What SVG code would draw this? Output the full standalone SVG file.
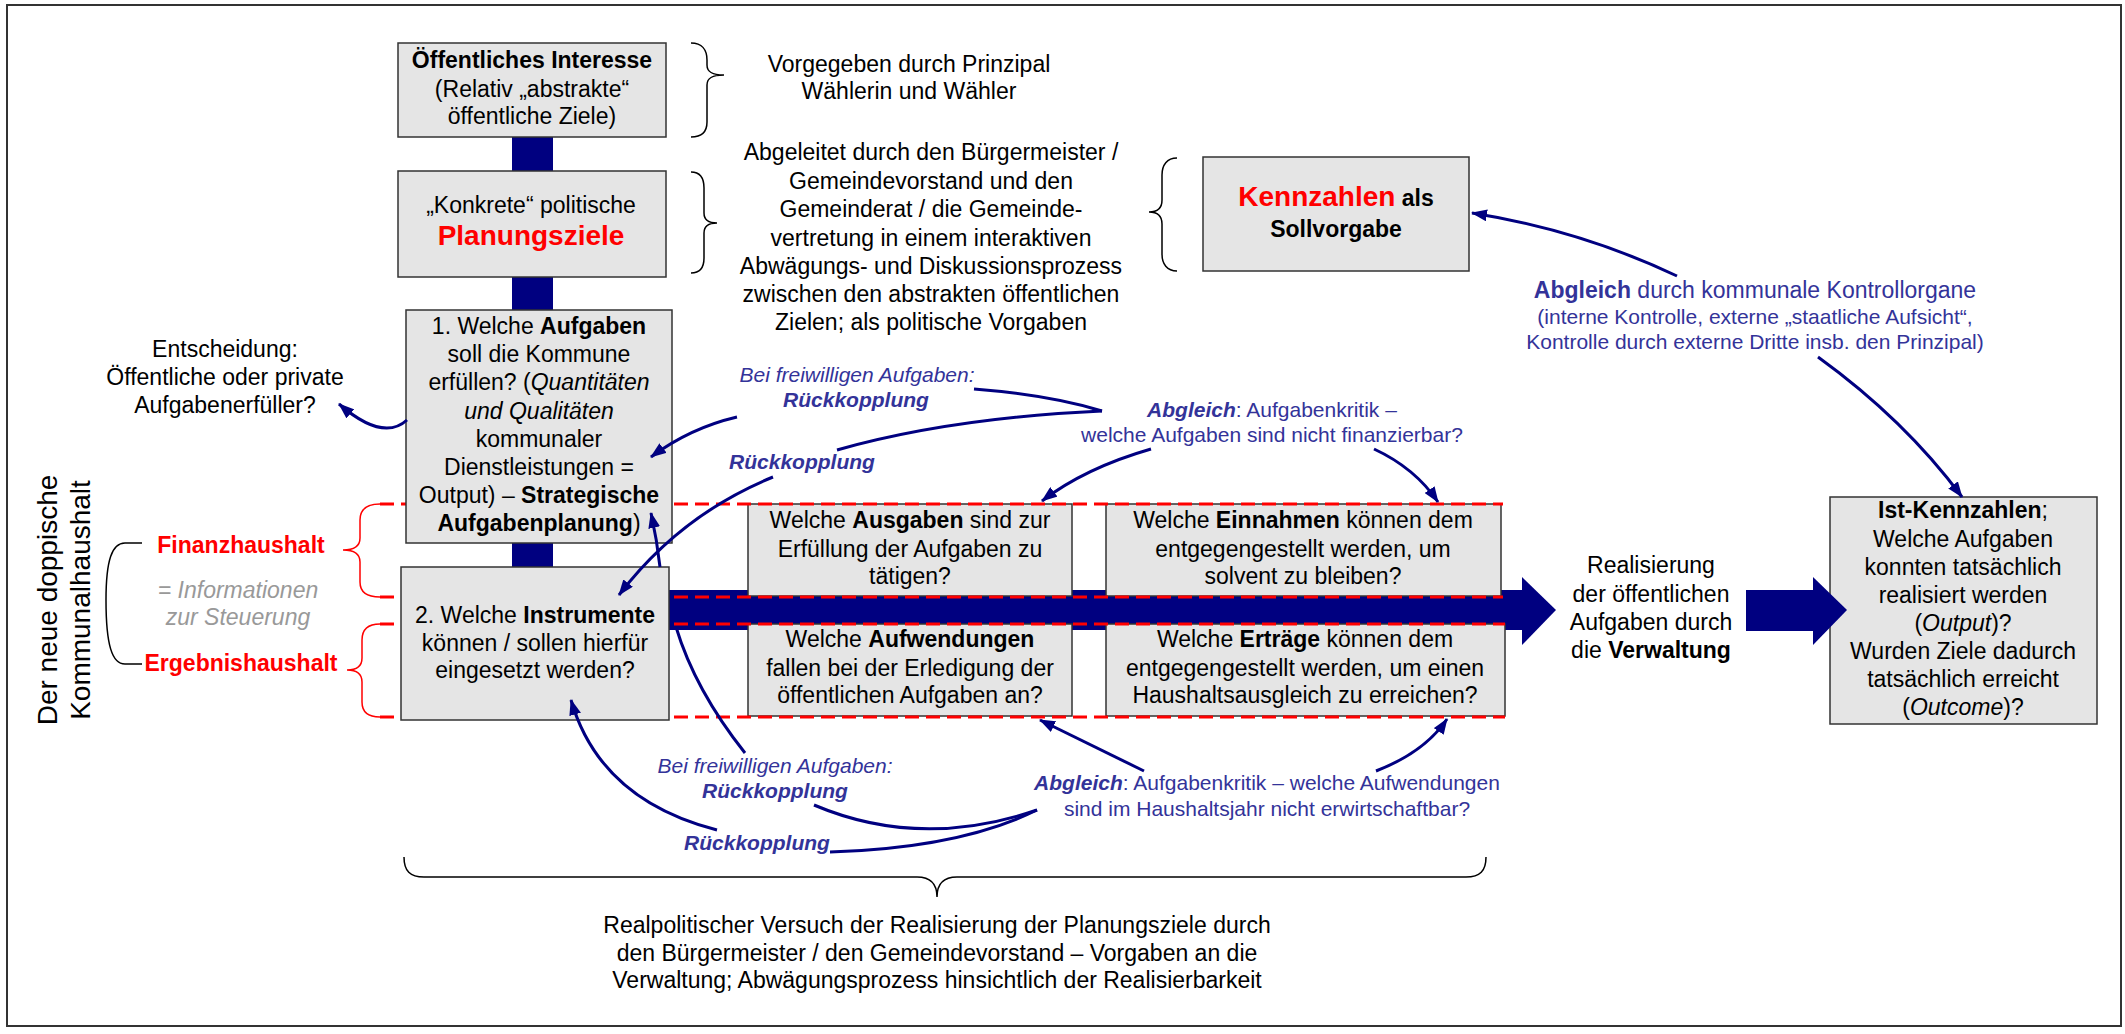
<svg xmlns="http://www.w3.org/2000/svg" width="2125" height="1034" viewBox="0 0 2125 1034">
<defs>
  <marker id="arrow" viewBox="0 0 16 12" refX="15" refY="6" markerWidth="16" markerHeight="12" markerUnits="userSpaceOnUse" orient="auto">
    <path d="M0,0 L16,6 L0,12 z" fill="#000080"/>
  </marker>
</defs>
<style>
  text { font-family: "Liberation Sans", Arial, sans-serif; font-size: 23px; fill: #000; text-anchor: middle; }
  .box { fill: #e5e5e5; stroke: #333; stroke-width: 1.5; }
  .b { font-weight: bold; }
  .i { font-style: italic; }
  .red { fill: #ff0000; }
  .big { font-size: 28px; }
  .vert { font-size: 28px; }
  .blue { fill: #333399; font-size: 21px; }
  .blue-l { fill: #333399; }
  .gray { fill: #999999; font-style: italic; }
  .brace { fill: none; stroke: #000; stroke-width: 1.5; }
  .rbrace { fill: none; stroke: #ff0000; stroke-width: 1.5; }
  .dash { stroke: #ff0000; stroke-width: 3; stroke-dasharray: 14 7; fill: none; }
  .link { fill: none; stroke: #000080; stroke-width: 3; }
  .arr { marker-end: url(#arrow); }
  .navy { fill: #000080; }
</style>

<!-- outer frame -->
<rect x="7" y="5" width="2114" height="1021" fill="#fff" stroke="#333" stroke-width="2"/>

<!-- backbone: vertical planning spine and horizontal realisation arrow -->
<g id="backbone">
  <rect class="navy" x="512" y="137" width="41" height="430"/>
  <rect class="navy" x="669" y="590" width="853" height="40"/>
  <polygon class="navy" points="1522,577 1556,610 1522,645"/>
</g>

<!-- budget questions -->
<g id="node-ausgaben">
  <rect class="box" x="748" y="504" width="324" height="92"/>
  <text x="910" y="528">Welche <tspan class="b">Ausgaben</tspan> sind zur</text>
  <text x="910" y="557">Erfüllung der Aufgaben zu</text>
  <text x="910" y="584">tätigen?</text>
</g>
<g id="node-einnahmen">
  <rect class="box" x="1106" y="504" width="395" height="92"/>
  <text x="1303" y="528">Welche <tspan class="b">Einnahmen</tspan> können dem</text>
  <text x="1303" y="557">entgegengestellt werden, um</text>
  <text x="1303" y="584">solvent zu bleiben?</text>
</g>
<g id="node-aufwendungen">
  <rect class="box" x="748" y="624" width="324" height="92"/>
  <text x="910" y="647">Welche <tspan class="b">Aufwendungen</tspan></text>
  <text x="910" y="676">fallen bei der Erledigung der</text>
  <text x="910" y="703">öffentlichen Aufgaben an?</text>
</g>
<g id="node-ertraege">
  <rect class="box" x="1106" y="624" width="399" height="92"/>
  <text x="1305" y="647">Welche <tspan class="b">Erträge</tspan> können dem</text>
  <text x="1305" y="676">entgegengestellt werden, um einen</text>
  <text x="1305" y="703">Haushaltsausgleich zu erreichen?</text>
</g>

<!-- Finanzhaushalt / Ergebnishaushalt bands -->
<g id="haushalt-bands">
  <line class="dash" x1="380" y1="504" x2="1503" y2="504"/>
  <line class="dash" x1="380" y1="597" x2="1503" y2="597"/>
  <line class="dash" x1="380" y1="624" x2="1505" y2="624"/>
  <line class="dash" x1="380" y1="717" x2="1505" y2="717"/>
  <path class="rbrace" d="M380,504 C366,504 360,510 360,520 L360,538 C360,546 355,550 343,550 C355,550 360,554 360,562 L360,582 C360,592 366,597 380,597"/>
  <path class="rbrace" d="M380,624 C368,624 362,630 362,640 L362,658 C362,666 357,670 347,670 C357,670 362,674 362,682 L362,702 C362,712 368,717 380,717"/>
</g>

<!-- planning chain -->
<g id="node-interesse">
  <rect class="box" x="398" y="43" width="268" height="94"/>
  <text x="532" y="68" class="b">Öffentliches Interesse</text>
  <text x="532" y="97">(Relativ „abstrakte“</text>
  <text x="532" y="124">öffentliche Ziele)</text>
</g>
<g id="node-planungsziele">
  <rect class="box" x="398" y="171" width="268" height="106"/>
  <text x="531" y="213">„Konkrete“ politische</text>
  <text x="531" y="245" class="b red big">Planungsziele</text>
</g>
<g id="node-aufgaben">
  <rect class="box" x="406" y="310" width="266" height="233"/>
  <text x="539" y="334">1. Welche <tspan class="b">Aufgaben</tspan></text>
  <text x="539" y="362">soll die Kommune</text>
  <text x="539" y="390">erfüllen? (<tspan class="i">Quantitäten</tspan></text>
  <text x="539" y="419" class="i">und Qualitäten</text>
  <text x="539" y="447">kommunaler</text>
  <text x="539" y="475">Dienstleistungen =</text>
  <text x="539" y="503">Output) – <tspan class="b">Strategische</tspan></text>
  <text x="539" y="531"><tspan class="b">Aufgabenplanung</tspan>)</text>
</g>
<g id="node-instrumente">
  <rect class="box" x="401" y="567" width="268" height="153"/>
  <text x="535" y="623">2. Welche <tspan class="b">Instrumente</tspan></text>
  <text x="535" y="651">können / sollen hierfür</text>
  <text x="535" y="678">eingesetzt werden?</text>
</g>
<g id="node-kennzahlen">
  <rect class="box" x="1203" y="157" width="266" height="114"/>
  <text x="1336" y="206"><tspan class="b red big">Kennzahlen</tspan><tspan class="b"> als</tspan></text>
  <text x="1336" y="237" class="b">Sollvorgabe</text>
</g>
<g id="node-ist">
  <rect class="box" x="1830" y="497" width="267" height="227"/>
  <text x="1963" y="518"><tspan class="b">Ist-Kennzahlen</tspan>;</text>
  <text x="1963" y="547">Welche Aufgaben</text>
  <text x="1963" y="575">konnten tatsächlich</text>
  <text x="1963" y="603">realisiert werden</text>
  <text x="1963" y="631">(<tspan class="i">Output</tspan>)?</text>
  <text x="1963" y="659">Wurden Ziele dadurch</text>
  <text x="1963" y="687">tatsächlich erreicht</text>
  <text x="1963" y="715">(<tspan class="i">Outcome</tspan>)?</text>
</g>

<!-- annotations with braces -->
<g id="note-prinzipal">
  <path class="brace" d="M691,43 C702,43 707,50 707,60 L707,65 C707,72 712,75 724,75 C712,75 707,78 707,85 L707,122 C707,132 702,137 691,137"/>
  <text x="909" y="72">Vorgegeben durch Prinzipal</text>
  <text x="909" y="99">Wählerin und Wähler</text>
</g>
<g id="note-abgeleitet">
  <path class="brace" d="M691,172 C700,172 704,178 704,188 L704,213 C704,219 708,223 717,223 C708,223 704,227 704,233 L704,258 C704,268 700,273 691,273"/>
  <text x="931" y="160">Abgeleitet durch den Bürgermeister /</text>
  <text x="931" y="189">Gemeindevorstand und den</text>
  <text x="931" y="217">Gemeinderat / die Gemeinde-</text>
  <text x="931" y="246">vertretung in einem interaktiven</text>
  <text x="931" y="274">Abwägungs- und Diskussionsprozess</text>
  <text x="931" y="302">zwischen den abstrakten öffentlichen</text>
  <text x="931" y="330">Zielen; als politische Vorgaben</text>
</g>
<g id="note-kennzahlen-brace">
  <path class="brace" d="M1177,158 C1167,158 1162,165 1162,175 L1162,200 C1162,207 1158,212 1149,212 C1158,212 1162,217 1162,224 L1162,254 C1162,264 1167,271 1177,271"/>
</g>
<g id="note-entscheidung">
  <text x="225" y="357">Entscheidung:</text>
  <text x="225" y="385">Öffentliche oder private</text>
  <text x="225" y="413">Aufgabenerfüller?</text>
</g>
<g id="note-haushalt">
  <text transform="translate(57,600) rotate(-90)" class="vert">Der neue doppische</text>
  <text transform="translate(90,600) rotate(-90)" class="vert">Kommunalhaushalt</text>
  <path class="brace" d="M142,543 L125,543 C112,543 106,560 106,600 C106,645 112,664 125,664 L142,664"/>
  <text x="241" y="553" class="b red">Finanzhaushalt</text>
  <text x="238" y="598" class="gray">= Informationen</text>
  <text x="238" y="625" class="gray">zur Steuerung</text>
  <text x="241" y="671" class="b red">Ergebnishaushalt</text>
</g>
<g id="note-realisierung">
  <text x="1651" y="573">Realisierung</text>
  <text x="1651" y="602">der öffentlichen</text>
  <text x="1651" y="630">Aufgaben durch</text>
  <text x="1651" y="658">die <tspan class="b">Verwaltung</tspan></text>
</g>
<g id="note-realpolitik">
  <path class="brace" d="M404,857 C404,871 410,877 424,877 L917,877 C931,877 937,885 937,897 C937,885 943,877 957,877 L1466,877 C1480,877 1486,871 1486,857"/>
  <text x="937" y="933">Realpolitischer Versuch der Realisierung der Planungsziele durch</text>
  <text x="937" y="961">den Bürgermeister / den Gemeindevorstand – Vorgaben an die</text>
  <text x="937" y="988">Verwaltung; Abwägungsprozess hinsichtlich der Realisierbarkeit</text>
</g>

<!-- feedback and comparison labels -->
<g id="labels">
  <text x="857" y="382" class="blue i">Bei freiwilligen Aufgaben:</text>
  <text x="856" y="407" class="blue b i">Rückkopplung</text>
  <text x="802" y="469" class="blue b i">Rückkopplung</text>
  <text x="1272" y="417" class="blue"><tspan class="b i">Abgleich</tspan>: Aufgabenkritik –</text>
  <text x="1272" y="442" class="blue">welche Aufgaben sind nicht finanzierbar?</text>
  <text x="775" y="773" class="blue i">Bei freiwilligen Aufgaben:</text>
  <text x="775" y="798" class="blue b i">Rückkopplung</text>
  <text x="757" y="850" class="blue b i">Rückkopplung</text>
  <text x="1267" y="790" class="blue"><tspan class="b i">Abgleich</tspan>: Aufgabenkritik – welche Aufwendungen</text>
  <text x="1267" y="816" class="blue">sind im Haushaltsjahr nicht erwirtschaftbar?</text>
  <text x="1755" y="298" class="blue-l"><tspan class="b">Abgleich</tspan> durch kommunale Kontrollorgane</text>
  <text x="1755" y="324" class="blue">(interne Kontrolle, externe „staatliche Aufsicht“,</text>
  <text x="1755" y="349" class="blue">Kontrolle durch externe Dritte insb. den Prinzipal)</text>
</g>

<!-- connectors -->
<g id="connectors">
  <rect class="navy" x="1746" y="590" width="67" height="41"/>
  <polygon class="navy" points="1813,577 1847,610 1813,645"/>
  <path class="link arr" d="M407,420 Q383,442 339,404"/>
  <path class="link arr" d="M737,417 Q690,428 651,457"/>
  <path class="link" d="M1102,411 Q1050,395 974,389"/>
  <path class="link" d="M1102,411 Q950,418 837,450"/>
  <path class="link arr" d="M773,477 Q680,515 619,595"/>
  <path class="link arr" d="M1151,449 Q1085,468 1042,501"/>
  <path class="link arr" d="M1374,449 Q1415,468 1438,502"/>
  <path class="link" d="M745,753 Q695,690 676,627"/>
  <path class="link arr" d="M660,567 Q657,540 651,513"/>
  <path class="link arr" d="M717,830 Q600,800 571,700"/>
  <path class="link" d="M814,805 Q920,850 1037,810"/>
  <path class="link" d="M830,852 Q960,848 1037,810"/>
  <path class="link arr" d="M1144,771 Q1085,742 1040,720"/>
  <path class="link arr" d="M1376,771 Q1425,752 1447,719"/>
  <path class="link arr" d="M1677,276 Q1580,230 1472,213"/>
  <path class="link arr" d="M1818,357 Q1905,420 1962,497"/>
</g>
</svg>
